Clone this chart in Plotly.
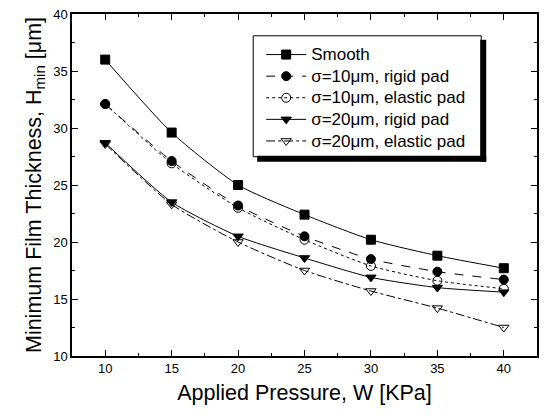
import plotly.graph_objects as go

pressure = [10, 15, 20, 25, 30, 35, 40]
smooth = [36.0, 29.6, 25.0, 22.4, 20.2, 18.8, 17.7]
rigid10 = [32.1, 27.1, 23.2, 20.5, 18.5, 17.4, 16.7]
elastic10 = [32.1, 26.9, 23.0, 20.2, 17.9, 16.6, 15.9]
rigid20 = [28.7, 23.5, 20.5, 18.6, 16.9, 16.0, 15.6]
elastic20 = [28.6, 23.3, 20.0, 17.5, 15.7, 14.2, 12.5]

series = [
    ("Smooth", smooth, "square", "solid"),
    ("σ=10μm, rigid pad", rigid10, "circle", "dash"),
    ("σ=10μm, elastic pad", elastic10, "circle-open", "dot"),
    ("σ=20μm, rigid pad", rigid20, "triangle-down", "solid"),
    ("σ=20μm, elastic pad", elastic20, "triangle-down-open", "dashdot"),
]

FONT = "Liberation Sans, Arial"

fig = go.Figure()
for name, ys, sym, dash in series:
    fig.add_trace(go.Scatter(
        x=pressure, y=ys, name="<span style='font-size:17px'>" + name + "</span>",
        mode="lines+markers",
        line=dict(color="black", width=1, dash=dash, shape="spline", smoothing=0.6),
        marker=dict(symbol=sym, size=9, color="black",
                    line=dict(color="black", width=1)),
    ))

axis_common = dict(
    showline=True, linecolor="black", linewidth=1.5, mirror="allticks",
    ticks="inside", ticklen=6, tickwidth=1, tickcolor="black",
    showgrid=False, zeroline=False,
    tickfont=dict(family=FONT, size=13, color="black"),
    minor=dict(ticks="inside", ticklen=3, tickcolor="black", dtick=2.5, showgrid=False),
)

fig.update_xaxes(range=[7.5, 42.5], tickvals=[10, 15, 20, 25, 30, 35, 40],
                 title=dict(text="Applied Pressure, W [KPa]",
                            font=dict(family=FONT, size=21.5, color="black"),
                            standoff=10),
                 **axis_common)
fig.update_yaxes(range=[10, 40], tickvals=[10, 15, 20, 25, 30, 35, 40],
                 title=dict(text="Minimum Film Thickness, H<sub>min</sub> [μm]",
                            font=dict(family=FONT, size=21.5, color="black"),
                            standoff=6),
                 **axis_common)

def px_x(p):
    return (p - 72) / 467.0

def px_y(p):
    return (356 - p) / 345.0

# legend frame (white box with border) and drop-shadow strips
fig.add_shape(type="rect", xref="paper", yref="paper",
              x0=px_x(254), x1=px_x(483), y0=px_y(155), y1=px_y(33),
              fillcolor="white", line=dict(width=1, color="black"), layer="above")
fig.add_shape(type="rect", xref="paper", yref="paper",
              x0=px_x(482), x1=px_x(488), y0=px_y(160), y1=px_y(37),
              fillcolor="black", line=dict(width=0), layer="above")
fig.add_shape(type="rect", xref="paper", yref="paper",
              x0=px_x(258), x1=px_x(488), y0=px_y(160), y1=px_y(154),
              fillcolor="black", line=dict(width=0), layer="above")

fig.update_layout(
    width=546, height=415,
    margin=dict(l=72, r=7, t=11, b=59),
    paper_bgcolor="white", plot_bgcolor="white",
    font=dict(family=FONT, color="black"),
    legend=dict(x=px_x(262), y=px_y(36), xanchor="left", yanchor="top",
                bgcolor="rgba(0,0,0,0)", borderwidth=0,
                font=dict(size=14.3, family=FONT, color="black"),
                itemwidth=40, tracegroupgap=0),
    showlegend=True,
)

fig.write_html("out.html")
